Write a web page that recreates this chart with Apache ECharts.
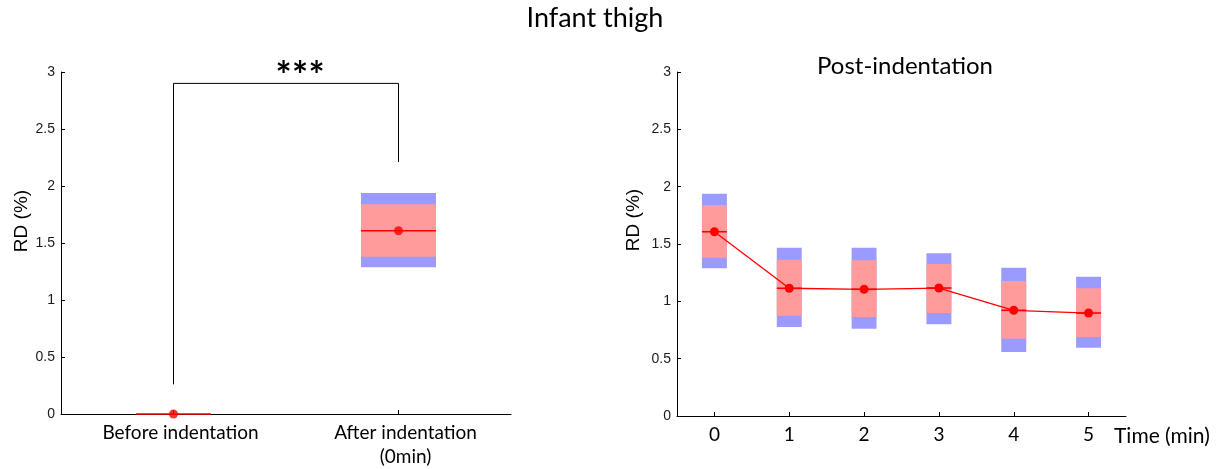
<!DOCTYPE html>
<html><head><meta charset="utf-8">
<script src="https://cdn.jsdelivr.net/npm/echarts@6/dist/echarts.min.js"></script>
<style>html,body{margin:0;padding:0;background:#fff}#c{width:1225px;height:469px}</style>
</head><body><div id="c"></div>
<script>
// ---- data ----
const leftCategories = ['Before indentation', 'After indentation\n(0min)'];
const leftMean      = [0, 1.607];
const leftInnerLow  = [0, 1.380];
const leftInnerHigh = [0, 1.840];
const leftOuterLow  = [0, 1.288];
const leftOuterHigh = [0, 1.939];

const timeCategories = ['0', '1', '2', '3', '4', '5'];
const postMean      = [1.607, 1.114, 1.105, 1.116, 0.922, 0.898];
const postInnerLow  = [1.380, 0.875, 0.863, 0.898, 0.674, 0.689];
const postInnerHigh = [1.840, 1.363, 1.358, 1.326, 1.177, 1.114];
const postOuterLow  = [1.288, 0.776, 0.761, 0.800, 0.558, 0.596];
const postOuterHigh = [1.939, 1.468, 1.468, 1.419, 1.293, 1.215];

const bracketX = [0, 0, 1, 1];
const bracketY = [0.26, 2.9, 2.9, 2.21];

const yMin = 0, yMax = 3, yStep = 0.5;

// ---- helpers ----
function boxData(m, il, ih, ol, oh) {
  return m.map((v, i) => [i, ol[i], il[i], v, ih[i], oh[i]]);
}
function renderBox(params, api) {
  const i = api.value(0);
  const band = api.size([1, 0])[0];
  const w = band / 3;
  const cx = api.coord([i, 0])[0];
  const yOL = api.coord([i, api.value(1)])[1];
  const yIL = api.coord([i, api.value(2)])[1];
  const yM  = api.coord([i, api.value(3)])[1];
  const yIH = api.coord([i, api.value(4)])[1];
  const yOH = api.coord([i, api.value(5)])[1];
  const x0 = cx - w / 2;
  return {
    type: 'group',
    children: [
      { type: 'rect', shape: { x: x0, y: yOH, width: w, height: yOL - yOH }, style: { fill: '#9b9bff' } },
      { type: 'rect', shape: { x: x0, y: yIH, width: w, height: yIL - yIH }, style: { fill: '#ff9b9b' } },
      { type: 'line', shape: { x1: x0, y1: yM, x2: x0 + w, y2: yM }, style: { stroke: '#ff0000', lineWidth: 1.6 } }
    ]
  };
}
function yAxisCfg(g) {
  return {
    gridIndex: g, type: 'value', min: yMin, max: yMax, interval: yStep,
    axisLine: { show: true, lineStyle: { color: '#000', width: 1 } },
    axisTick: { show: true, inside: true, length: 4, lineStyle: { color: '#000' } },
    axisLabel: { color: '#1a1a1a', fontFamily: 'Liberation Sans', fontSize: 14, margin: 6 },
    splitLine: { show: false }
  };
}
function xAxisCfg(g, cats, pad) {
  return {
    gridIndex: g, type: 'category', data: cats, boundaryGap: true,
    axisLine: { show: true, lineStyle: { color: '#000', width: 1 } },
    axisTick: { show: true, inside: true, length: 4, alignWithLabel: true, lineStyle: { color: '#000' } },
    axisLabel: { color: '#000', fontFamily: 'Lato', fontSize: 19, lineHeight: 24, margin: 7, interval: 0, padding: pad },
    splitLine: { show: false }
  };
}

const chart = echarts.init(document.getElementById('c'), null, { renderer: 'canvas' });
chart.setOption({
  animation: false,
  backgroundColor: '#fff',
  grid: [
    { left: 61, top: 72, width: 450, height: 344 },
    { left: 677, top: 72, width: 449, height: 344 }
  ],
  xAxis: [xAxisCfg(0, leftCategories, [0, 0, 0, 14]), xAxisCfg(1, timeCategories, [0, 0, 0, 0])],
  yAxis: [yAxisCfg(0), yAxisCfg(1)],
  series: [
    { type: 'custom', xAxisIndex: 0, yAxisIndex: 0, renderItem: renderBox, z: 1,
      encode: { x: 0, y: [1, 5] },
      data: boxData(leftMean, leftInnerLow, leftInnerHigh, leftOuterLow, leftOuterHigh) },
    { type: 'line', xAxisIndex: 0, yAxisIndex: 0, z: 2, symbol: 'none',
      lineStyle: { color: '#000', width: 1 },
      data: bracketX.map((x, i) => [x, bracketY[i]]) },
    { type: 'scatter', xAxisIndex: 0, yAxisIndex: 0, z: 5, symbol: 'circle', symbolSize: 9,
      itemStyle: { color: '#ff0000' },
      data: leftMean.map((v, i) => [i, v]) },
    { type: 'custom', xAxisIndex: 1, yAxisIndex: 1, renderItem: renderBox, z: 1,
      encode: { x: 0, y: [1, 5] },
      data: boxData(postMean, postInnerLow, postInnerHigh, postOuterLow, postOuterHigh) },
    { type: 'line', xAxisIndex: 1, yAxisIndex: 1, z: 5, symbol: 'circle', symbolSize: 9,
      lineStyle: { color: '#ff0000', width: 1.3 }, itemStyle: { color: '#ff0000' },
      data: postMean.map((v, i) => [i, v]) }
  ],
  graphic: [
    { type: 'text', x: 595, y: 18, style: { text: 'Infant thigh', fontFamily: 'Lato', fontSize: 27, fill: '#000', align: 'center', verticalAlign: 'middle' } },
    { type: 'text', x: 905, y: 66, style: { text: 'Post-indentation', fontFamily: 'Lato', fontSize: 24, fill: '#000', align: 'center', verticalAlign: 'middle' } },
    { type: 'text', x: 22, y: 221, rotation: Math.PI / 2, style: { text: 'RD (%)', fontFamily: 'Liberation Sans', fontSize: 19, fill: '#000', align: 'center', verticalAlign: 'middle' } },
    { type: 'text', x: 634, y: 220, rotation: Math.PI / 2, style: { text: 'RD (%)', fontFamily: 'Liberation Sans', fontSize: 19, fill: '#000', align: 'center', verticalAlign: 'middle' } },
    { type: 'text', x: 283.5, y: 77, style: { text: '*', fontFamily: 'Lato', fontSize: 38, fontWeight: 'bold', fill: '#000', align: 'center', verticalAlign: 'middle' } },
    { type: 'text', x: 300, y: 77, style: { text: '*', fontFamily: 'Lato', fontSize: 38, fontWeight: 'bold', fill: '#000', align: 'center', verticalAlign: 'middle' } },
    { type: 'text', x: 316.5, y: 77, style: { text: '*', fontFamily: 'Lato', fontSize: 38, fontWeight: 'bold', fill: '#000', align: 'center', verticalAlign: 'middle' } },
    { type: 'text', x: 1114, y: 436, style: { text: 'Time (min)', fontFamily: 'Lato', fontSize: 21, fill: '#000', align: 'left', verticalAlign: 'middle' } }
  ]
});
</script></body></html>
